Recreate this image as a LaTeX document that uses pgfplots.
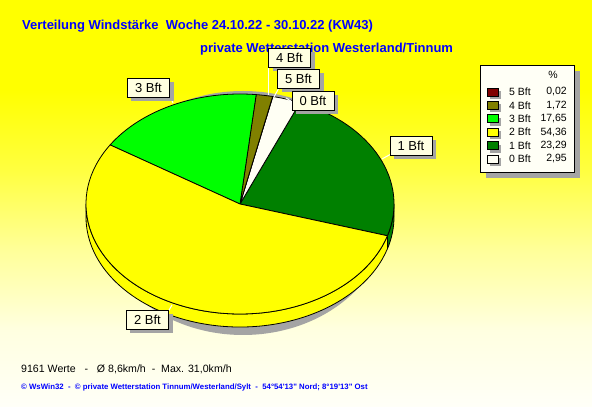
\documentclass[border=0pt]{standalone}
\usepackage{pgfplots}
\pgfplotsset{compat=1.18}
\usepackage{pgfplotstable}
\usetikzlibrary{shadows}
\usepackage{fontspec}
\setmainfont{Liberation Sans}
\newfontfamily\plainsans{Liberation Sans}

\definecolor{bft5}{HTML}{800000}
\definecolor{bft4}{HTML}{808000}
\definecolor{bft3}{HTML}{00FF00}
\definecolor{bft2}{HTML}{FFFF00}
\definecolor{bft1}{HTML}{008000}
\definecolor{bft0}{HTML}{FFFFF4}
\definecolor{titleblue}{HTML}{0000FF}
\definecolor{tipfill}{HTML}{FFFFE1}
\definecolor{legfill}{HTML}{FFFFF6}
\definecolor{shadowgray}{HTML}{A4A4A4}
\definecolor{bgA}{HTML}{FFFFF8}
\definecolor{bgB}{HTML}{FFFFE0}
\definecolor{bgC}{HTML}{FFFF99}
\definecolor{bgD}{HTML}{FFFF40}

\pgfdeclareverticalshading{bgshade}{100bp}{%
  color(0bp)=(bgA); color(25bp)=(bgA); color(34.5bp)=(bgB); color(44.3bp)=(bgC);
  color(54.1bp)=(bgD); color(63.9bp)=(yellow); color(100bp)=(yellow)}

% Anteile in Prozent, gegen den Uhrzeigersinn ab -16.76 Grad
\pgfplotstableread[col sep=comma]{
name,pct,col
1 Bft,23.29,bft1
0 Bft,2.95,bft0
5 Bft,0.02,bft5
4 Bft,1.72,bft4
3 Bft,17.65,bft3
2 Bft,54.36,bft2
}\winddata

% Winkel der Segmente aus der Tabelle
\pgfmathsetmacro\cum{-16.76}
\pgfplotsforeachungrouped \i in {0,...,5}{%
  \pgfplotstablegetelem{\i}{pct}\of\winddata
  \expandafter\xdef\csname lo\i\endcsname{\cum}%
  \pgfmathsetmacro\cum{\cum+3.6*\pgfplotsretval}%
  \expandafter\xdef\csname hi\i\endcsname{\cum}%
  \pgfplotstablegetelem{\i}{col}\of\winddata
  \expandafter\xdef\csname col\i\endcsname{\pgfplotsretval}%
}

\newcommand\topwedge[3]{%
  \filldraw[fill=#3,draw=black,line width=0.8bp,line join=round]
    (axis cs:0,0) -- ++(#1:154bp and 110bp)
    arc[start angle=#1,end angle=#2,x radius=154bp,y radius=110bp] -- cycle;}
\newcommand\drawside[3]{%
  \filldraw[fill=#3,draw=black,line width=0.8bp,line join=round]
    (axis cs:0,0) ++(#1:154bp and 110bp)
    arc[start angle=#1,end angle=#2,x radius=154bp,y radius=110bp]
    -- ++(0bp,-13bp)
    arc[start angle=#2,end angle=#1,x radius=154bp,y radius=110bp] -- cycle;}
\newcommand\sidewedge[3]{%
  \pgfmathsetmacro\slo{max(#1,180)}\pgfmathsetmacro\shi{min(#2,360)}%
  \ifdim\shi pt>\slo pt \drawside{\slo}{\shi}{#3}\fi
  \pgfmathsetmacro\slo{max(#1,-180)}\pgfmathsetmacro\shi{min(#2,0)}%
  \ifdim\shi pt>\slo pt \drawside{\slo}{\shi}{#3}\fi}

\tikzset{lbl/.style={draw=black,line width=0.8bp,fill=tipfill,inner sep=0pt,
  minimum width=42bp,minimum height=19bp,font=\fontsize{13bp}{15bp}\selectfont,
  drop shadow={shadow xshift=4bp,shadow yshift=-4bp,fill=shadowgray,opacity=1}}}

\begin{document}
\begin{tikzpicture}
\path[use as bounding box,shading=bgshade] (0bp,0bp) rectangle (592bp,407bp);

\begin{axis}[at={(240bp,203bp)},anchor=center,scale only axis,
  width=308bp,height=220bp,xmin=-1,xmax=1,ymin=-1,ymax=1,
  hide axis,clip=false]
\pgfplotsextra{%
  \fill[shadowgray] (axis cs:0,0) ++(3bp,-9bp) ellipse[x radius=146bp,y radius=122bp];
  \pgfplotsforeachungrouped \i in {0,...,5}{%
    \edef\tmp{\noexpand\sidewedge{\csname lo\i\endcsname}{\csname hi\i\endcsname}{\csname col\i\endcsname}}\tmp}%
  \pgfplotsforeachungrouped \i in {0,...,5}{%
    \edef\tmp{\noexpand\topwedge{\csname lo\i\endcsname}{\csname hi\i\endcsname}{\csname col\i\endcsname}}\tmp}%
}
\end{axis}

\begin{scope}[shift={(0bp,407bp)},x=1bp,y=-1bp]
  % Titel
  \node[anchor=west,inner sep=0pt,text=titleblue,font=\fontsize{13bp}{15bp}\selectfont\bfseries]
    at (22,26) {Verteilung Windstärke\ \ Woche 24.10.22 - 30.10.22 (KW43)};
  \node[anchor=west,inner sep=0pt,text=titleblue,font=\fontsize{13bp}{15bp}\selectfont\bfseries]
    at (200,49) {private Wetterstation Westerland/Tinnum};

  % Hinweislinien
  \draw[white,line width=1bp] (268,66) -- (268,95);
  \draw[white,line width=1bp] (280,86) -- (274,97);
  \draw[white,line width=1bp] (294,103) -- (286,98);
  \draw[white,line width=1bp] (170,96) -- (173,103);
  \draw[white,line width=1bp] (391,154) -- (382,159);
  \draw[white,line width=1bp] (168,312) -- (172,305);

  % Beschriftungen
  \node[lbl] at (289.5,58) {4 Bft};
  \node[lbl] at (298.5,79) {5 Bft};
  \node[lbl] at (313,101) {0 Bft};
  \node[lbl] at (148.5,87.5) {3 Bft};
  \node[lbl] at (411,146) {1 Bft};
  \node[lbl] at (147.5,320) {2 Bft};

  % Legende
  \fill[shadowgray] (486,71) rectangle (580,178);
  \filldraw[fill=legfill,draw=black,line width=0.8bp] (480,65) rectangle (574,172);
  \node[font=\fontsize{10.5bp}{12bp}\selectfont] at (553,75) {\%};
  \foreach \nm/\val/\c [count=\k from 0] in
    {5 Bft/{0,02}/bft5,4 Bft/{1,72}/bft4,3 Bft/{17,65}/bft3,
     2 Bft/{54,36}/bft2,1 Bft/{23,29}/bft1,0 Bft/{2,95}/bft0}{
    \pgfmathsetmacro\yy{92+13.4*\k}
    \fill[shadowgray] (490,\yy-1) rectangle (501,\yy+7);
    \filldraw[fill=\c,draw=black,line width=0.8bp] (487,\yy-4) rectangle (498,\yy+4);
    \node[anchor=west,inner sep=0pt,font=\fontsize{10.5bp}{12bp}\selectfont] at (509,\yy) {\nm};
    \node[anchor=east,inner sep=0pt,font=\fontsize{10.5bp}{12bp}\selectfont] at (567,\yy) {\val};
  }

  % Fusszeilen
  \node[anchor=west,inner sep=0pt,font=\fontsize{10.6bp}{12bp}\selectfont]
    at (21,369) {9161 Werte\ \ \ -\ \ \ Ø 8,6km/h\ \ -\ \ Max. 31,0km/h};
  \node[anchor=west,inner sep=0pt,text=titleblue,font=\plainsans\fontsize{7.8bp}{9bp}\selectfont\bfseries]
    at (21,387) {© WsWin32\ \ -\ \ © private Wetterstation Tinnum/Westerland/Sylt\ \ -\ \ 54°54'13" Nord; 8°19'13" Ost};
\end{scope}
\end{tikzpicture}
\end{document}
